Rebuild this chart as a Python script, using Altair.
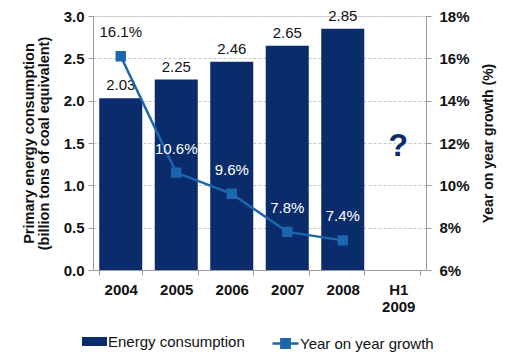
import altair as alt
import pandas as pd

# ---- data ----
years = ["2004", "2005", "2006", "2007", "2008", "H1 2009"]
energy = [2.03, 2.25, 2.46, 2.65, 2.85, None]
growth = [16.1, 10.6, 9.6, 7.8, 7.4, None]
energy_series = "Energy consumption"
growth_series = "Year on year growth"
note_year = ["H1 2009"]
note_text = ["?"]
note_level = [1.46]

df = pd.DataFrame({"year": years, "energy": energy, "growth": growth})
df_e = df.dropna(subset=["energy"]).assign(series=energy_series)
df_g = df.dropna(subset=["growth"]).assign(series2=growth_series)
df_note = pd.DataFrame({"year": note_year, "txt": note_text, "lvl": note_level})

BAR = "#0b2c6b"
LINE = "#1c66ae"
FONT = "Liberation Sans"
AX = "#9a9a9a"
TXT = "#111111"

x_enc = alt.X(
    "year:N",
    sort=years,
    scale=alt.Scale(domain=years, paddingInner=0.225, paddingOuter=0.1125),
    axis=alt.Axis(
        title=None, labelAngle=0, tickBand="extent", domainColor=AX, tickColor=AX,
        tickSize=5, labelPadding=7, labelFontSize=15, labelFontWeight="bold",
        labelColor=TXT, labelFont=FONT, grid=False, labelLineHeight=17,
        labelExpr="datum.label == 'H1 2009' ? ['H1', '2009'] : datum.label",
    ),
)

y_left = alt.Y(
    "energy:Q",
    scale=alt.Scale(domain=[0, 3], nice=False, zero=True),
    axis=alt.Axis(
        title=["Primary energy consumption", "(billion tons of coal equivalent)"],
        values=[0, 0.5, 1, 1.5, 2, 2.5, 3], format=".1f",
        grid=True, gridDash=[3, 2], gridColor="#c8c8c8",
        domainColor=AX, tickColor=AX, tickSize=5, labelPadding=4,
        labelFontSize=15, labelFontWeight="bold", labelColor=TXT, labelFont=FONT,
        titleFontSize=14.5, titleFontWeight="bold", titleColor=TXT, titleFont=FONT,
        titlePadding=12, titleLineHeight=15,
    ),
)

y_right = alt.Y(
    "growth:Q",
    scale=alt.Scale(domain=[6, 18], nice=False, zero=False),
    axis=alt.Axis(
        orient="right", title="Year on year growth (%)",
        values=[6, 8, 10, 12, 14, 16, 18], labelExpr="datum.value + '%'",
        grid=False, domainColor=AX, tickColor=AX, tickSize=5, labelPadding=8,
        labelFontSize=15, labelFontWeight="bold", labelColor=TXT, labelFont=FONT,
        titleFontSize=14, titleFontWeight="bold", titleColor=TXT, titleFont=FONT,
        titlePadding=26, titleAngle=270,
    ),
)

bars = alt.Chart(df_e).mark_bar(color=BAR).encode(
    x=x_enc,
    y=y_left,
    fill=alt.Fill(
        "series:N",
        scale=alt.Scale(domain=[energy_series], range=[BAR]),
        legend=alt.Legend(
            title=None, orient="none", legendX=-11, legendY=313, padding=0,
            symbolType="M-1,-0.36H1V0.36H-1Z", symbolSize=625, symbolStrokeWidth=0,
            labelFontSize=15, labelFont=FONT, labelColor=TXT, labelOffset=1,
        ),
    ),
)

bar_labels = alt.Chart(df_e).mark_text(
    baseline="bottom", dy=-5, fontSize=15, font=FONT, color=TXT
).encode(x=alt.X("year:N", sort=years), y=alt.Y("energy:Q"), text=alt.Text("energy:Q", format=".2f"))

note = alt.Chart(df_note).mark_text(
    fontSize=32, fontWeight="bold", font=FONT, color=BAR, baseline="middle"
).encode(x=alt.X("year:N", sort=years), y=alt.Y("lvl:Q"), text="txt:N")

left = alt.layer(bars, bar_labels, note)

line = alt.Chart(df_g).mark_line(
    color=LINE, strokeWidth=2.5,
    point=alt.OverlayMarkDef(shape="square", size=70, filled=True, color=LINE),
).encode(
    x=alt.X("year:N", sort=years),
    y=y_right,
    stroke=alt.Stroke(
        "series2:N",
        scale=alt.Scale(domain=[growth_series], range=[LINE]),
        legend=alt.Legend(
            title=None, orient="none", legendX=178, legendY=313, padding=0,
            symbolType="M-1,0H1M-0.32,-0.32H0.32V0.32H-0.32Z", symbolSize=676,
            symbolStrokeWidth=2.5, symbolFillColor=LINE,
            labelFontSize=15, labelFont=FONT, labelColor=TXT, labelOffset=0,
        ),
    ),
)

growth_text = alt.Chart(df_g).transform_calculate(
    lab="format(datum.growth, '.1f') + '%'"
).mark_text(baseline="middle", dy=-24, fontSize=15, font=FONT).encode(
    x=alt.X("year:N", sort=years),
    y=alt.Y("growth:Q"),
    text="lab:N",
    color=alt.condition("datum.growth > 12", alt.value(TXT), alt.value("white")),
)

right = alt.layer(line, growth_text)

chart = alt.layer(left, right).resolve_scale(
    y="independent", fill="independent", stroke="independent"
).properties(
    width=333, height=254,
    autosize=alt.AutoSizeParams(type="none"),
    padding={"left": 85, "top": 8, "right": 78, "bottom": 85},
).configure_view(stroke=None).configure(background="white")

chart.save("out.html", embed_options={"renderer": "svg", "actions": False})
